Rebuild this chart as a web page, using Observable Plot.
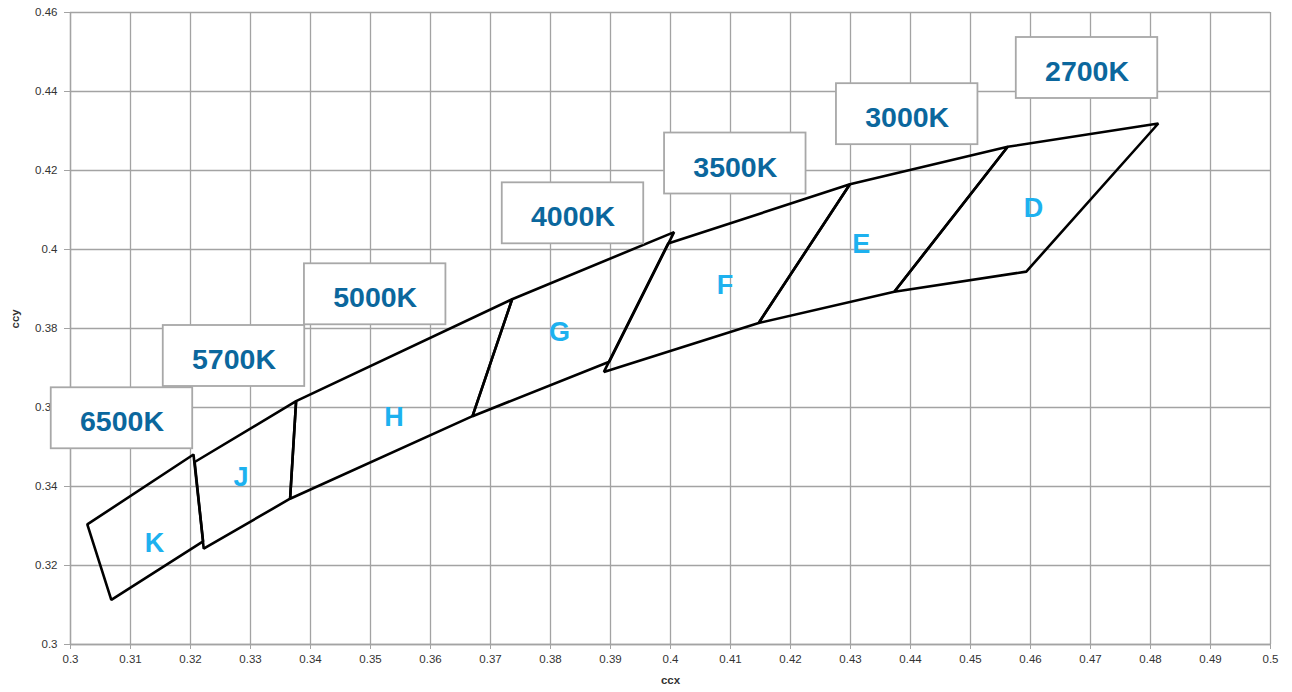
<!DOCTYPE html>
<html>
<head>
<meta charset="utf-8">
<script src="https://cdn.jsdelivr.net/npm/d3@7"></script>
<script src="https://cdn.jsdelivr.net/npm/@observablehq/plot@0.6"></script>
<style>
  html, body { margin: 0; padding: 0; background: #fff; }
  #chart svg { display: block; }
</style>
</head>
<body>
<div id="chart"></div>
<script>
// ---- Data ----
const regions = ["K", "J", "H", "G", "F", "E", "D"];
// quadrangle corners: top-left, top-right, bottom-right, bottom-left
const kX = [0.3028, 0.3205, 0.3221, 0.3068];
const kY = [0.3304, 0.3481, 0.3261, 0.3113];
const jX = [0.3207, 0.3376, 0.3366, 0.3222];
const jY = [0.3462, 0.3616, 0.3369, 0.3243];
const hX = [0.3376, 0.3736, 0.3670, 0.3366];
const hY = [0.3616, 0.3874, 0.3578, 0.3369];
const gX = [0.3736, 0.4006, 0.3898, 0.3670];
const gY = [0.3874, 0.4044, 0.3716, 0.3578];
const fX = [0.3996, 0.4299, 0.4147, 0.3889];
const fY = [0.4015, 0.4165, 0.3814, 0.3690];
const eX = [0.4299, 0.4562, 0.4373, 0.4147];
const eY = [0.4165, 0.4260, 0.3893, 0.3814];
const dX = [0.4562, 0.4813, 0.4593, 0.4373];
const dY = [0.4260, 0.4319, 0.3944, 0.3893];

// region letter anchor points (data units)
const letterX = [0.3140, 0.3284, 0.3539, 0.3815, 0.4091, 0.4318, 0.4605];
const letterY = [0.3256, 0.3423, 0.3575, 0.3790, 0.3909, 0.4014, 0.4105];

// CCT label boxes: centre points (data units)
const cctLabels = ["6500K", "5700K", "5000K", "4000K", "3500K", "3000K", "2700K"];
const cctX = [0.30858, 0.32725, 0.35078, 0.38375, 0.41080, 0.43945, 0.46942];
const cctY = [0.35727, 0.37304, 0.38866, 0.40916, 0.42177, 0.43426, 0.44595];

// axis ticks
const xTicks = [0.30, 0.31, 0.32, 0.33, 0.34, 0.35, 0.36, 0.37, 0.38, 0.39, 0.40,
                0.41, 0.42, 0.43, 0.44, 0.45, 0.46, 0.47, 0.48, 0.49, 0.50];
const yTicks = [0.30, 0.32, 0.34, 0.36, 0.38, 0.40, 0.42, 0.44, 0.46];
const xLabel = "ccx";
const yLabel = "ccy";

// ---- Build tables ----
const polyXs = [kX, jX, hX, gX, fX, eX, dX];
const polyYs = [kY, jY, hY, gY, fY, eY, dY];
const polyPoints = regions.flatMap((r, i) =>
  polyXs[i].map((x, j) => ({region: r, x, y: polyYs[i][j]})));
const letters = regions.map((r, i) => ({text: r, x: letterX[i], y: letterY[i]}));
const boxHalfW = 0.01179, boxHalfH = 0.00772;
const boxes = cctLabels.map((t, i) => ({
  text: t, x: cctX[i], y: cctY[i],
  x1: cctX[i] - boxHalfW, x2: cctX[i] + boxHalfW,
  y1: cctY[i] - boxHalfH, y2: cctY[i] + boxHalfH
}));
const fmt = v => String(+v.toFixed(2));

const grid = "#a3a3a3";
const chart = Plot.plot({
  width: 1292,
  height: 692,
  marginLeft: 70,
  marginRight: 22,
  marginTop: 12,
  marginBottom: 48,
  style: {fontFamily: "'Liberation Sans', Arial, sans-serif", background: "#fff"},
  x: {domain: [0.3, 0.5]},
  y: {domain: [0.3, 0.46]},
  marks: [
    Plot.gridX(xTicks, {stroke: grid, strokeOpacity: 1, strokeWidth: 1.3}),
    Plot.gridY(yTicks, {stroke: grid, strokeOpacity: 1, strokeWidth: 1.3}),
    Plot.ruleX([0.3], {stroke: grid, strokeWidth: 1.3}),
    Plot.ruleY([0.3], {stroke: grid, strokeWidth: 1.3}),
    Plot.axisX(xTicks, {tickFormat: fmt, tickSize: 5, tickPadding: 5, stroke: grid,
      fill: "#333", fontSize: 11.5, label: null}),
    Plot.axisY(yTicks, {tickFormat: fmt, tickSize: 6, tickPadding: 7, stroke: grid,
      fill: "#333", fontSize: 11.5, label: null}),
    Plot.text([xLabel], {frameAnchor: "bottom", dy: 39, fill: "#333", fontSize: 11.5, fontWeight: "bold"}),
    Plot.text([yLabel], {frameAnchor: "left", dx: -55, rotate: -90, fill: "#333", fontSize: 11.5, fontWeight: "bold"}),
    Plot.line(polyPoints, {x: "x", y: "y", z: "region", curve: "linear-closed",
      stroke: "black", strokeWidth: 2.6, strokeLinejoin: "miter"}),
    Plot.text(letters, {x: "x", y: "y", text: "text", fill: "#1db1ef", fontSize: 27,
      fontWeight: "bold"}),
    Plot.rect(boxes, {x1: "x1", x2: "x2", y1: "y1", y2: "y2", fill: "white",
      stroke: "#a8a8a8", strokeWidth: 1.8, clip: false}),
    Plot.text(boxes, {x: "x", y: "y", text: "text", dy: 4, fill: "#0b679d",
      fontSize: 28.5, fontWeight: "bold"})
  ]
});
document.getElementById("chart").appendChild(chart);
</script>
</body>
</html>
